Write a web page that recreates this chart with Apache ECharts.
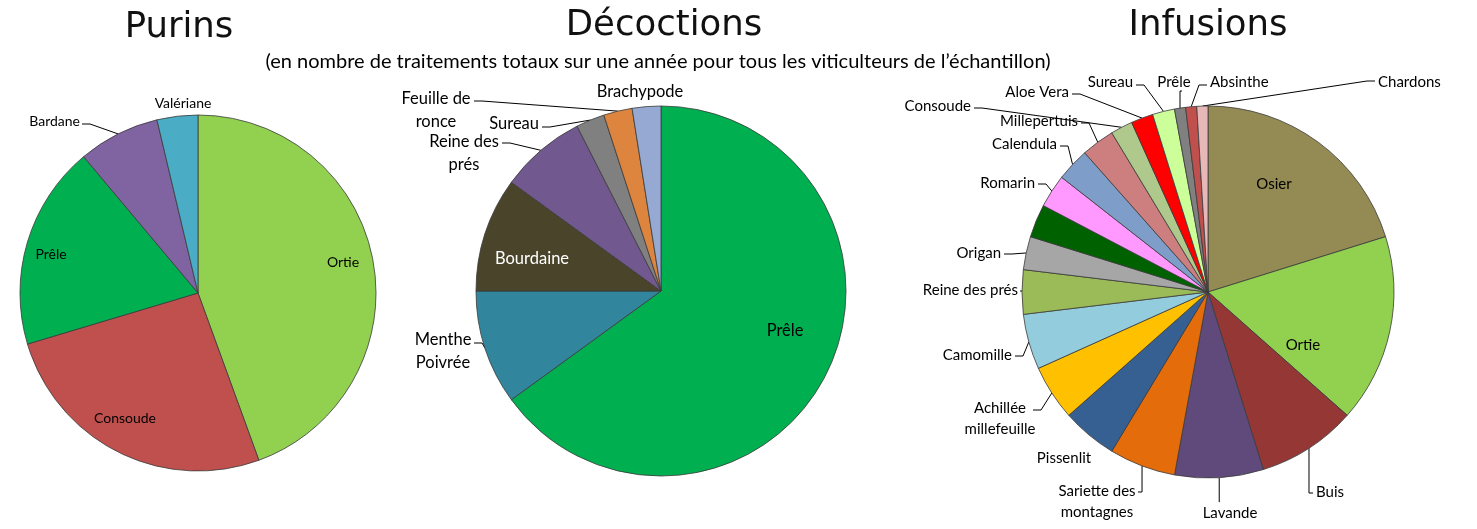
<!DOCTYPE html>
<html>
<head>
<meta charset="utf-8">
<script src="https://cdn.jsdelivr.net/npm/echarts@6/dist/echarts.min.js"></script>
<style>
    html, body { margin: 0; padding: 0; background: #fff; }
    #chart { width: 1477px; height: 529px; }
</style>
</head>
<body>
<div id="chart"></div>
<script>
    // Purins
    const purinsNames = ['Ortie', 'Consoude', 'Prêle', 'Bardane', 'Valériane']
    const purinsValues = [24, 14, 10, 4, 2]
    const purinsColors = ['#92D050', '#C0504D', '#00B050', '#8064A2', '#4BACC6']

    // Décoctions
    const decoNames = ['Prêle', 'Menthe\nPoivrée', 'Bourdaine', 'Reine des\nprés', 'Sureau', 'Feuille de\nronce', 'Brachypode']
    const decoValues = [26, 4, 4, 3, 1, 1, 1]
    const decoColors = ['#00B050', '#31859C', '#4A452A', '#71598F', '#808080', '#DD853F', '#95A9D2']

    // Infusions ('' = part sans étiquette sur l'original)
    const infuNames = ['Osier', 'Ortie', 'Buis', 'Lavande', 'Sariette des\nmontagnes', 'Pissenlit',
        'Achillée\nmillefeuille', 'Camomille', 'Reine des prés', 'Origan', '', 'Romarin', 'Calendula',
        'Millepertuis', 'Consoude', 'Aloe Vera', 'Sureau', 'Prêle', 'Absinthe', 'Chardons']
    const infuValues = [21, 17, 9, 8, 6, 5, 5, 5, 4, 3, 3, 3, 3, 3, 2, 2, 2, 1, 1, 1]
    const infuColors = ['#948A54', '#92D050', '#953735', '#604A7B', '#E46C0A', '#366092',
        '#FFC000', '#93CDDD', '#9BBB59', '#A6A6A6', '#006100', '#FF99FF', '#7F9DC9',
        '#CD7F7F', '#AFC98C', '#FF0000', '#CCFF99', '#808080', '#C0504D', '#E6B9B8']

    // placement des étiquettes, comme sur l'original (x, y, align, bout du trait côté texte, coude)
    const purinsSpots = {
        'Ortie': [343, 262, 'center'],
        'Consoude': [125, 418, 'center'],
        'Prêle': [51, 254, 'center'],
        'Bardane': [80, 121, 'right', [82, 124], 'h'],
        'Valériane': [183, 103, 'center']
    }
    const decoSpots = {
        'Prêle': [785, 331, 'center'],
        'Menthe\nPoivrée': [443, 351, 'center', [474, 343], 'h'],
        'Bourdaine': [532, 259, 'center'],
        'Reine des\nprés': [464, 153, 'center', [502, 143], 'h'],
        'Sureau': [539, 124, 'right', [542, 127], 'h'],
        'Feuille de\nronce': [436, 110, 'center', [474, 101], 'h'],
        'Brachypode': [640, 92, 'center']
    }
    const infuSpots = {
        'Osier': [1274, 184, 'center'],
        'Ortie': [1303, 345, 'center'],
        'Buis': [1316, 492, 'left', [1313, 493], 'v'],
        'Lavande': [1230, 513, 'center', [1219, 502], 'v'],
        'Sariette des\nmontagnes': [1097, 502, 'center', [1138, 492], 'v'],
        'Pissenlit': [1064, 458, 'center'],
        'Achillée\nmillefeuille': [1000, 419, 'center', [1033, 410], 'h'],
        'Camomille': [1012, 355, 'right', [1015, 356], 'h'],
        'Reine des prés': [1018, 290, 'right', [1020, 291], 'h'],
        'Origan': [1001, 253, 'right', [1004, 254], 'h'],
        'Romarin': [1035, 183, 'right', [1038, 184], 'h'],
        'Calendula': [1057, 144, 'right', [1060, 146], 'h'],
        'Millepertuis': [1078, 121, 'right', [1081, 123], 'h'],
        'Consoude': [971, 106, 'right', [974, 108], 'h'],
        'Aloe Vera': [1069, 92, 'right', [1072, 94], 'h'],
        'Sureau': [1133, 82, 'right', [1136, 85], 'h'],
        'Prêle': [1174, 82, 'center', [1182, 91], 'v'],
        'Absinthe': [1210, 82, 'left', [1207, 85], 'h'],
        'Chardons': [1378, 82, 'left', [1375, 81], 'h']
    }

    const font = 'Lato'

    function buildPie(names, values, colors, spots, center, radius, fontSize, whiteNames) {
        let total = values.reduce((a, b) => a + b, 0)
        // bord de chaque part au milieu de son angle (départ à midi, sens horaire)
        let edges = []
        let acc = 0
        values.forEach(v => {
            let mid = (acc + v / 2) / total * 2 * Math.PI
            edges.push([center[0] + radius * Math.sin(mid), center[1] - radius * Math.cos(mid)])
            acc += v
        })
        return {
            type: 'pie',
            center: center,
            radius: [0, radius],
            startAngle: 90,
            clockwise: true,
            silent: true,
            avoidLabelOverlap: false,
            itemStyle: {borderColor: '#3a3a3a', borderWidth: 0.8},
            label: {color: '#000', fontFamily: font, fontSize: fontSize, lineHeight: Math.round(fontSize * 1.38)},
            labelLine: {length: 8, length2: 10, lineStyle: {color: '#000', width: 1}},
            data: names.map((n, i) => {
                let spot = spots[n]
                let hasLine = !!(spot && spot[3])
                return {
                    name: n,
                    value: values[i],
                    itemStyle: {color: colors[i]},
                    label: {
                        show: !!spot,
                        position: hasLine ? 'outside' : 'inside',
                        color: whiteNames.indexOf(n) >= 0 ? '#fff' : '#000',
                        align: spot ? spot[2] : 'center'
                    },
                    labelLine: {show: hasLine}
                }
            }),
            labelLayout: function (params) {
                let spot = spots[names[params.dataIndex]]
                if (!spot) return {}
                let out = {x: spot[0], y: spot[1], align: spot[2], verticalAlign: 'middle'}
                let end = spot[3]
                if (end) {
                    let edge = edges[params.dataIndex]
                    let bend
                    if (spot[4] === 'v') {
                        bend = [edge[0], end[1]]
                    } else {
                        let dir = spot[2] === 'right' ? 1 : spot[2] === 'left' ? -1 : (edge[0] > end[0] ? 1 : -1)
                        bend = [end[0] + dir * 8, end[1]]
                    }
                    out.labelLinePoints = [edge, bend, end]
                }
                return out
            }
        }
    }

    const titleStyle = {fontFamily: 'DejaVu Sans', fontSize: 35.5, fontWeight: 'normal', color: '#111'}

    let option = {
        backgroundColor: '#fff',
        animation: false,
        title: [
            {text: 'Purins', left: 174, top: 5, textAlign: 'center', textStyle: titleStyle},
            {text: 'Décoctions', left: 659, top: 3, textAlign: 'center', textStyle: titleStyle},
            {text: 'Infusions', left: 1203, top: 3, textAlign: 'center', textStyle: titleStyle},
            {
                text: '(en nombre de traitements totaux sur une année pour tous les viticulteurs de l’échantillon)',
                left: 653, top: 47, textAlign: 'center',
                textStyle: {fontFamily: font, fontSize: 20, fontWeight: 'normal', color: '#000'}
            }
        ],
        series: [
            buildPie(purinsNames, purinsValues, purinsColors, purinsSpots, [198, 293], 178, 14, []),
            buildPie(decoNames, decoValues, decoColors, decoSpots, [661, 291], 185, 16.5, ['Bourdaine']),
            buildPie(infuNames, infuValues, infuColors, infuSpots, [1208, 292], 186, 15, [])
        ]
    }

    let chart = echarts.init(document.getElementById('chart'))
    chart.setOption(option)
</script>
</body>
</html>
